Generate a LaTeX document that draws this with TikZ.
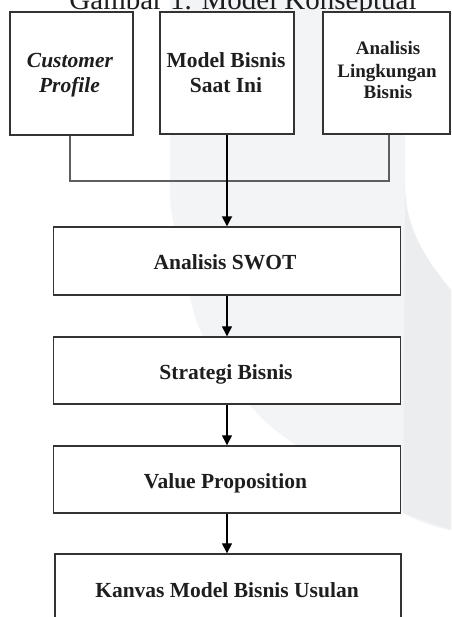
\documentclass[tikz,border=0pt]{standalone}
\usepackage{fontspec}
\setmainfont{Liberation Serif}
\usetikzlibrary{arrows.meta}
\definecolor{wmA}{HTML}{F3F4F6}
\definecolor{wmB}{HTML}{ECEDEF}
\definecolor{boxline}{HTML}{333333}
\definecolor{txtcol}{HTML}{1E1E1E}
\definecolor{connA}{HTML}{5E5E5E}
\tikzset{
  boxst/.style={draw=boxline, fill=white, line width=1.4pt, inner sep=0pt, rectangle},
  bigtxt/.style={font=\fontsize{21.5}{25}\selectfont\bfseries, text=txtcol, inner sep=0pt, anchor=base},
  smalltxt/.style={font=\fontsize{19}{22}\selectfont\bfseries, text=txtcol, inner sep=0pt, anchor=base},
  graycon/.style={draw=connA, line width=1.4pt},
  mainarr/.style={draw=black, line width=1.8pt, -{Triangle[width=10pt,length=10pt]}},
  flowarr/.style={draw=black, line width=1.3pt, -{Triangle[width=10pt,length=10pt]}}
}
\begin{document}
\begin{tikzpicture}[x=1pt,y=-1pt]
\useasboundingbox (0,0) rectangle (451,617);
\clip (0,0) rectangle (451,617);
\fill[white] (0,0) rectangle (451,617);
% watermark
\fill[wmA] (170,0) -- (405,0) -- (405,185) .. controls (405,230) and (428,262) .. (451,290) -- (451,530)
  -- plot[smooth, tension=0.6] coordinates {(451,530) (403,513) (293,443) (250,405) (205,340) (188,290) (172,215) (170,185)} -- cycle;
\fill[wmB] (405,185) .. controls (405,230) and (428,262) .. (451,290) -- (451,530) -- (403,513) -- cycle;
% title (clipped at top)
\node[font=\fontsize{29}{29}\selectfont, text=txtcol, inner sep=0pt, anchor=base] (title) at (243,10) {Gambar 1. Model Konseptual};
% top boxes
\node[boxst, minimum width=123pt, minimum height=123pt] (cp) at (71.5,73.5) {};
\node[boxst, minimum width=134pt, minimum height=122pt] (mb) at (227,73) {};
\node[boxst, minimum width=127pt, minimum height=122pt] (al) at (386.5,73) {};
\node[bigtxt] (cp1) at (70,68) {\textit{Customer}};
\node[bigtxt] (cp2) at (69.5,92.5) {\textit{Profile}};
\node[bigtxt] (mb1) at (226,68) {Model Bisnis};
\node[bigtxt] (mb2) at (226,93) {Saat Ini};
\node[smalltxt] (al1) at (388,55) {Analisis};
\node[smalltxt] (al2) at (387,78) {Lingkungan};
\node[smalltxt] (al3) at (388,99) {Bisnis};
% flow boxes
\node[boxst, minimum width=347pt, minimum height=68pt] (swot) at (227,261) {};
\node[boxst, minimum width=347pt, minimum height=67pt] (sb) at (227,370.5) {};
\node[boxst, minimum width=347pt, minimum height=67pt] (vp) at (227,479.5) {};
\node[boxst, minimum width=346pt, minimum height=67pt] (kv) at (228,587.5) {};
\node[bigtxt] (swott) at (225,269) {Analisis SWOT};
\node[bigtxt] (sbt) at (226,379) {Strategi Bisnis};
\node[bigtxt] (vpt) at (225.5,488) {Value Proposition};
\node[bigtxt] (kvt) at (227,597) {Kanvas Model Bisnis Usulan};
% connectors
\coordinate (join) at (227,181);
\draw[graycon] (cp.south -| 70,0) |- (join) -| (al.south -| 389,0);
\draw[mainarr] (mb.south) -- (swot.north);
\draw[flowarr] (swot.south) -- (sb.north);
\draw[flowarr] (sb.south) -- (vp.north);
\draw[flowarr] (vp.south) -- (kv.north -| vp.south);
\end{tikzpicture}
\end{document}
